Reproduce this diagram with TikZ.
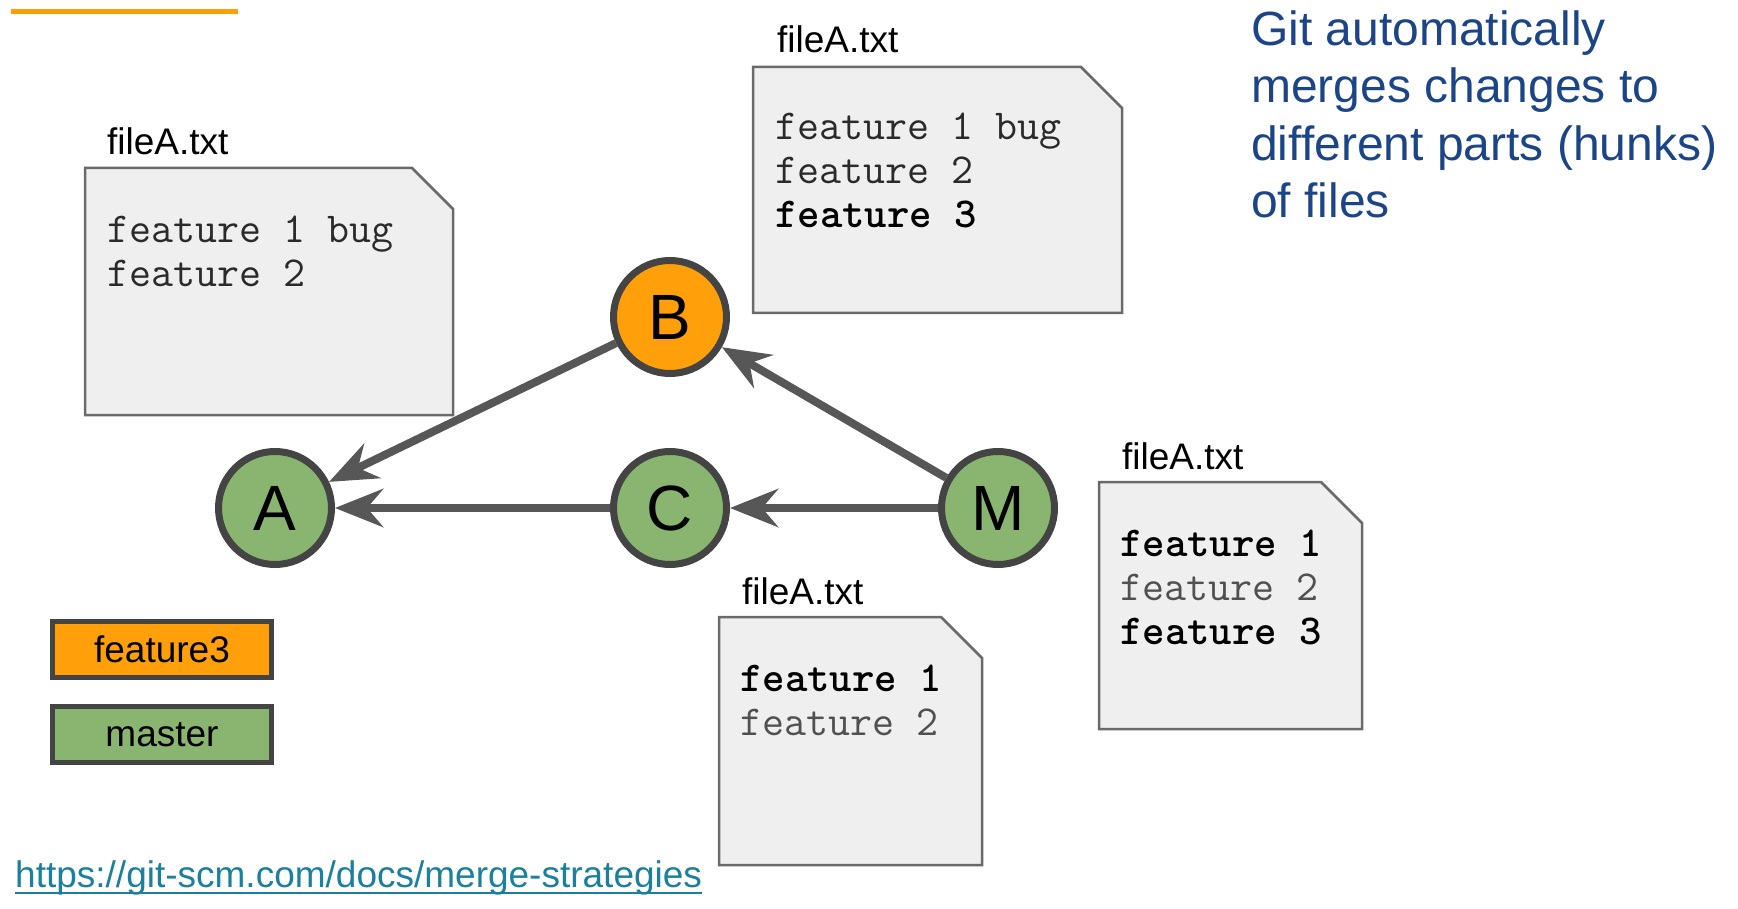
\documentclass[tikz,border=0pt]{standalone}
\usepackage{fontspec}
\setmainfont{Liberation Sans}
\usetikzlibrary{arrows.meta}
\definecolor{gitorange}{HTML}{FFA00A}
\definecolor{gitgreen}{HTML}{89B570}
\definecolor{ringgray}{HTML}{444444}
\definecolor{arrowgray}{HTML}{575757}
\definecolor{papergray}{HTML}{EFEFEF}
\definecolor{paperline}{HTML}{6A6A6A}
\definecolor{codegray}{HTML}{2A2A2A}
\definecolor{codelight}{HTML}{505050}
\definecolor{gitblue}{HTML}{1C4587}
\definecolor{linkteal}{HTML}{1B809E}
\def\filebox(#1,#2)(#3,#4)(#5){\draw[filepaper] (#1,#2) -- ({#3-#5},#2) -- (#3,{#2+#5}) -- (#3,#4) -- (#1,#4) -- cycle;}

\tikzset{
  commit/.style={circle, draw=ringgray, line width=7pt, minimum size=113pt, inner sep=0pt,
    font=\fontsize{64}{70}\selectfont},
  parent/.style={-{Stealth[length=48pt, width=38pt, inset=16pt]}, line width=8pt, draw=arrowgray},
  filepaper/.style={fill=papergray, draw=paperline, line width=2.5pt},
  filename/.style={anchor=base west, inner sep=0pt, font=\fontsize{37}{42}\selectfont},
  code/.style={anchor=base west, inner sep=0pt, align=left, text=codegray,
    font=\fontsize{42.7}{44}\selectfont\ttfamily},
  branch/.style={rectangle, draw=ringgray, line width=5pt, minimum width=219pt, minimum height=56pt,
    font=\fontsize{37}{42}\selectfont}
}

\begin{document}
\begin{tikzpicture}[x=1pt, y=-1pt]
		%%%%% START %%%%%
		\useasboundingbox (0,0) rectangle (1738,909);
		\fill[white] (0,0) rectangle (1738,909);
		
		\draw[line width=5pt, color=gitorange] (11,12) -- (238,12);
		
		% files (code nodes sit on their last baseline)
		\filebox(85,168)(453,415)(41)
		\node[filename] (nameA) at (107,155) {fileA.txt};
		\node[code] (textA) at (107,287) {feature 1 bug\\feature 2};
		
		\filebox(753,67)(1122,313)(41)
		\node[filename] (nameB) at (777,53) {fileA.txt};
		\node[code] (textB) at (775,228) {feature 1 bug\\feature 2\\\textcolor{black}{\bfseries feature 3}};
		
		\filebox(719,617)(982,865)(41)
		\node[filename] (nameC) at (742,604) {fileA.txt};
		\node[code] (textC) at (740,735) {\textcolor{black}{\bfseries feature 1}\\\textcolor{codelight}{feature 2}};
		
		\filebox(1099,482)(1362,729)(41)
		\node[filename] (nameM) at (1122,469) {fileA.txt};
		\node[code] (textM) at (1120,644) {\textcolor{black}{\bfseries feature 1}\\\textcolor{codelight}{feature 2}\\\textcolor{black}{\bfseries feature 3}};
		
		% commits
		\node[commit, fill=gitgreen] (A) at (275,508) {A};
		\node[commit, fill=gitorange] (B) at (670,317) {B};
		\node[commit, fill=gitgreen] (C) at (670,508) {C};
		\node[commit, fill=gitgreen] (M) at (998,508) {M};
		
		\draw[parent] (B) -- (A);
		\draw[parent] (C) -- (A);
		\draw[parent] (M) -- (C);
		\draw[parent] (M) -- (B);
		
		% branches
		\node[branch, fill=gitorange] (feature3) at (162,649.5) {feature3};
		\node[branch, fill=gitgreen] (master) at (162,734.5) {master};
		
		\node[anchor=base west, inner sep=0pt, align=left, text=gitblue,
		  font=\fontsize{48}{57.5}\selectfont] (note) at (1251,218)
		  {Git automatically\\merges changes to\\different parts (hunks)\\of files};
		
		\node[anchor=base west, inner sep=0pt, text=linkteal, font=\fontsize{37}{42}\selectfont]
		  (link) at (15,887) {https://git-scm.com/docs/merge-strategies};
		\draw[linkteal, line width=2pt] ([yshift=-6pt]link.base west) -- ([yshift=-6pt]link.base east);
		%%%%% END %%%%%
\end{tikzpicture}
\end{document}
